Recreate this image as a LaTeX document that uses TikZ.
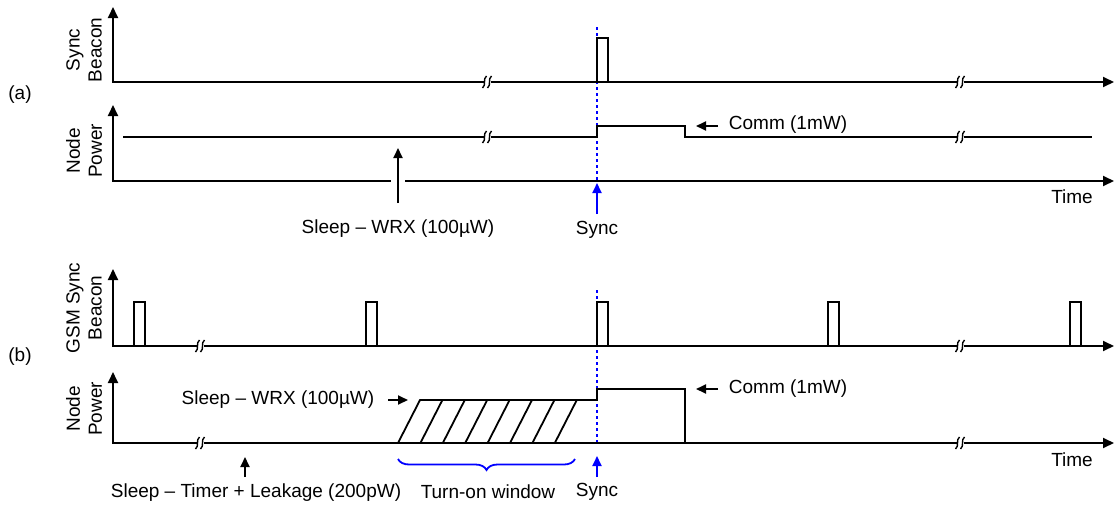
\documentclass[tikz,border=0pt]{standalone}
\usepackage{fontspec}
\setmainfont{Liberation Sans}
\usepackage{tikz}
\usetikzlibrary{positioning, arrows.meta, decorations.pathreplacing}

% break mark on a time line
\newcommand{\brkmark}[1]{%
  \begin{scope}[shift={(#1)}]
    \fill[white] (-3.5,-4) rectangle (3.5,4);
    \draw[line width=1.4pt] (-4.5,6) .. controls (-0.5,3) and (-4.5,-3) .. (-0.5,-6);
    \draw[line width=1.4pt] (0.5,6) .. controls (4.5,3) and (0.5,-3) .. (4.5,-6);
  \end{scope}}

\begin{document}
\begin{tikzpicture}[x=1pt, y=-1pt, line width=1.8pt,
    every node/.style={inner sep=0pt, font=\fontsize{19}{22}\selectfont},
    axis/.style={{Triangle[length=11pt,width=10pt]}-{Triangle[length=11pt,width=10pt]}, line join=miter},
    ptr/.style={-{Triangle[length=10pt,width=9pt]}},
    syncptr/.style={blue, -{Triangle[length=10pt,width=9pt]}},
    syncline/.style={blue, line width=2pt, dash pattern=on 3pt off 3pt},
    winbrace/.style={blue, decorate, decoration={brace, amplitude=11pt, mirror}}]
  \useasboundingbox (0,0) rectangle (1115,506);

  % (a)
  \node (tagA) at (20,95) {(a)};
  \node[rotate=90, align=center] (yA1) at (84,50) {Sync\\Beacon};
  \node[rotate=90, align=center] (yA2) at (84,151) {Node\\Power};
  \coordinate (tA1) at (113,7);
  \coordinate (oA1) at (113,82);
  \coordinate (eA1) at (1114,82);
  \coordinate (tA2) at (113,105);
  \coordinate (oA2) at (113,181);
  \coordinate (eA2) at (1114,181);
  \draw[syncline] (597,27) -- (597,181);
  \draw[axis] (tA1) -- (oA1) -- (eA1);
  \draw[axis] (tA2) -- (oA2) -- (eA2);
  \draw (597,82) -- (597,38) -- (608,38) -- (608,82);
  \draw (123,137) -- (597,137) -- (597,126) -- (685,126) -- (685,137) -- (1092,137);
  \brkmark{487,82}
  \brkmark{960,82}
  \brkmark{487,137}
  \brkmark{960,137}
  \node (timeA) at (1072,197) {Time};

  \node (sleepA) at (398,229) {Sleep – WRX (100µW)};
  \coordinate (sleepAfoot) at (398,203);
  \coordinate (sleepAtip) at (398,148);
  \fill[white] (391,176) rectangle (405,186);
  \draw[ptr] (sleepAfoot) -- (sleepAtip);

  \node (syncA) at (597,230) {Sync};
  \coordinate (syncAfoot) at (597,214);
  \coordinate (syncAtip) at (597,183);
  \draw[syncptr] (syncAfoot) -- (syncAtip);

  \node[anchor=west] (commA) at (728,125) {Comm (1mW)};
  \coordinate (commAtail) at (718,126);
  \coordinate (commAtip) at (696,126);
  \draw[ptr] (commAtail) -- (commAtip);

  % (b)
  \node (tagB) at (20,357) {(b)};
  \node[rotate=90, align=center] (yB1) at (84,308) {GSM Sync\\Beacon};
  \node[rotate=90, align=center] (yB2) at (84,409) {Node\\Power};
  \coordinate (tB1) at (113,269);
  \coordinate (oB1) at (113,346);
  \coordinate (eB1) at (1114,346);
  \coordinate (tB2) at (113,372);
  \coordinate (oB2) at (113,443);
  \coordinate (eB2) at (1114,443);
  \draw[syncline] (597,290) -- (597,443);
  \draw[axis] (tB1) -- (oB1) -- (eB1);
  \draw[axis] (tB2) -- (oB2) -- (eB2);
  \foreach \px in {134,366,597,828,1070}
    \draw (\px,346) -- (\px,302) -- ++(11,0) -- ++(0,44);
  \draw (398,443) -- (420,400) -- (597,400) -- (597,389) -- (685,389) -- (685,443);
  \foreach \i in {1,...,7}
    \draw (398+22.4*\i,443) -- ++(22,-43);
  \brkmark{200,346}
  \brkmark{960,346}
  \brkmark{200,443}
  \brkmark{960,443}
  \node (timeB) at (1072,460) {Time};

  \node (sleepB) at (278,400) {Sleep – WRX (100µW)};
  \coordinate (sleepBtail) at (388,400);
  \coordinate (sleepBtip) at (408,400);
  \draw[ptr] (sleepBtail) -- (sleepBtip);

  \node[anchor=west] (commB) at (728,389) {Comm (1mW)};
  \coordinate (commBtail) at (718,389);
  \coordinate (commBtip) at (696,389);
  \draw[ptr] (commBtail) -- (commBtip);

  \node (leakB) at (256,493) {Sleep – Timer + Leakage (200pW)};
  \coordinate (leakBfoot) at (245,477);
  \coordinate (leakBtip) at (245,457);
  \draw[ptr] (leakBfoot) -- (leakBtip);

  \node (winB) at (488,492) {Turn-on window};
  \coordinate (winBl) at (398,459);
  \coordinate (winBr) at (575,459);
  \draw[winbrace] (winBl) -- (winBr);

  \node (syncB) at (597,492) {Sync};
  \coordinate (syncBfoot) at (597,477);
  \coordinate (syncBtip) at (597,456);
  \draw[syncptr] (syncBfoot) -- (syncBtip);
\end{tikzpicture}
\end{document}
